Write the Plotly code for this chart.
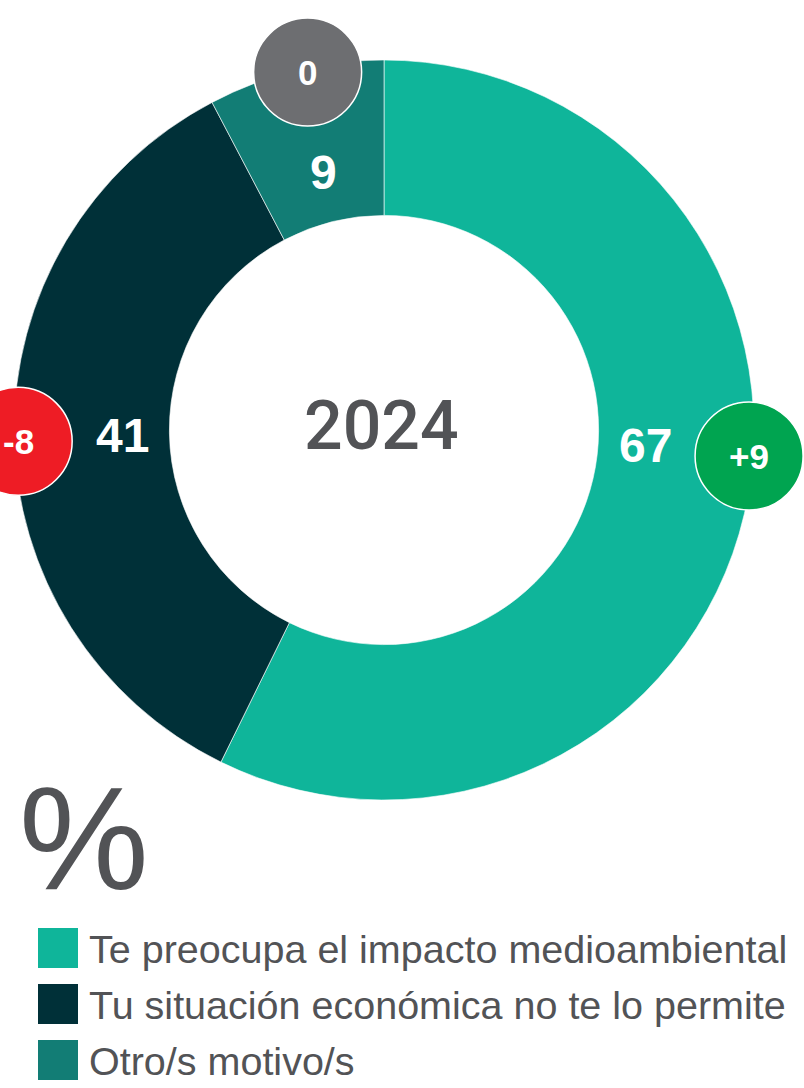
import numpy as np
import plotly.graph_objects as go

# data
labels = ["Te preocupa el impacto medioambiental",
          "Tu situación económica no te lo permite",
          "Otro/s motivo/s"]
values = [67, 41, 9]
changes = [9, -8, 0]
year = "2024"
unit = "%"

colors = ["#0fb59a", "#003038", "#127d75"]

W, H = 804, 1088
cx, cy, R = 384, 430, 370
hole = 0.58
label_r, bubble_r = 262, 366
label_shift = [-9, -1, 0.5]    # nudge labels off the slice middle (degrees)
bubble_shift = [-9, -1, 1.8]

fig = go.Figure()

# donut
fig.add_trace(go.Pie(
    values=values, labels=labels, sort=False, direction="clockwise", rotation=0,
    hole=hole, textinfo="none", showlegend=False,
    marker=dict(colors=colors, line=dict(color="white", width=0.6)),
    domain=dict(x=[(cx - R) / W, (cx + R) / W], y=[(H - cy - R) / H, (H - cy + R) / H]),
))

# angles of each slice middle, clockwise from 12 o'clock
total = sum(values)
start = np.cumsum([0] + values[:-1])
mid = (start + np.array(values) / 2) / total * 360
ang = np.radians(mid + np.array(label_shift))
bang = np.radians(mid + np.array(bubble_shift))

shapes = []
annotations = []
for i, v in enumerate(values):
    lx = cx + label_r * np.sin(ang[i])
    ly = cy - label_r * np.cos(ang[i])
    annotations.append(dict(x=lx, y=ly - 3, xref="x", yref="y", text=f"<b>{v}</b>",
                            showarrow=False,
                            font=dict(family="Liberation Sans", size=48, color="white")))
    # change bubble
    bx = cx + bubble_r * np.sin(bang[i])
    by = cy - bubble_r * np.cos(bang[i])
    c = changes[i]
    bcol = "#00a450" if c > 0 else ("#ee1c25" if c < 0 else "#6d6e71")
    shapes.append(dict(type="circle", xref="x", yref="y", layer="above",
                       x0=bx - 54, x1=bx + 54, y0=by - 54, y1=by + 54,
                       fillcolor=bcol, line=dict(color="white", width=1.5)))
    txt = f"+{c}" if c > 0 else str(c)
    annotations.append(dict(x=bx, y=by, xref="x", yref="y", text=f"<b>{txt}</b>",
                            showarrow=False,
                            font=dict(family="Liberation Sans", size=35, color="white")))

# centre year and unit
annotations.append(dict(x=381, y=426, xref="x", yref="y", text=year, showarrow=False,
                        font=dict(family="Roboto", size=68, weight=500, color="#525356")))
annotations.append(dict(x=84, y=838, xref="x", yref="y", text=unit, showarrow=False,
                        font=dict(family="Liberation Sans", size=146, color="#525356")))

# legend
leg_y = [948, 1004, 1060]
fig.add_trace(go.Scatter(
    x=[58] * len(labels), y=leg_y, mode="markers",
    marker=dict(symbol="square", size=40, color=colors),
    hoverinfo="skip", showlegend=False, cliponaxis=False,
))
for i, lab in enumerate(labels):
    annotations.append(dict(x=87, y=leg_y[i] + 1, xref="x", yref="y", text=lab,
                            xanchor="left", showarrow=False,
                            font=dict(family="Liberation Sans", size=39.5, color="#525356")))

fig.update_layout(
    width=W, height=H,
    margin=dict(l=0, r=0, t=0, b=0),
    paper_bgcolor="white", plot_bgcolor="white",
    xaxis=dict(range=[0, W], visible=False, fixedrange=True),
    yaxis=dict(range=[H, 0], visible=False, fixedrange=True),
    shapes=shapes, annotations=annotations,
)

fig.write_html("out.html", config={"displayModeBar": False},
               post_script="document.body.style.margin='0';")
